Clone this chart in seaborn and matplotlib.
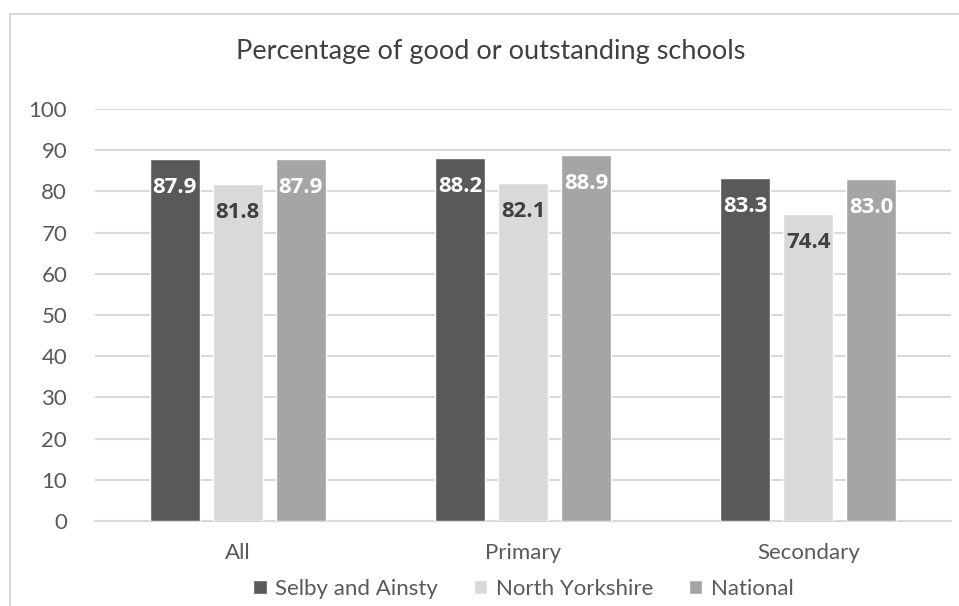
import matplotlib
matplotlib.use("Agg")
import matplotlib.pyplot as plt
import seaborn as sns
import pandas as pd
from matplotlib.patches import Rectangle

categories = ["All", "Primary", "Secondary"]
series = ["Selby and Ainsty", "North Yorkshire", "National"]
selby = [87.9, 88.2, 83.3]
north_yorkshire = [81.8, 82.1, 74.4]
national = [87.9, 88.9, 83.0]
yticks = list(range(0, 101, 10))

colors = ["#595959", "#d9d9d9", "#a5a5a5"]
label_colors = ["white", "#404040", "white"]

rows = []
for s, vals in zip(series, [selby, north_yorkshire, national]):
    for c, v in zip(categories, vals):
        rows.append({"Category": c, "Series": s, "Value": v})
df = pd.DataFrame(rows)

sns.set_theme(style="white")
plt.rcParams["font.family"] = ["Lato", "DejaVu Sans"]

fig = plt.figure(figsize=(9.59, 6.06), dpi=100)
ax = fig.add_axes([95 / 959, 1 - 521 / 606, (951 - 95) / 959, (521 - 109) / 606])

sns.barplot(data=df, x="Category", y="Value", hue="Series", order=categories,
            hue_order=series, palette=colors, width=0.662, gap=0.206,
            saturation=1, ax=ax, legend=True, zorder=3)

ax.set_ylim(0, 100)
ax.set_yticks(yticks)
ax.set_xlim(-0.5, 2.5)
ax.grid(axis="y", color="#d9d9d9", linewidth=1.5, zorder=0)
ax.set_axisbelow(True)
for sp in ["top", "right", "left"]:
    ax.spines[sp].set_visible(False)
ax.spines["bottom"].set_color("#d9d9d9")
ax.spines["bottom"].set_linewidth(1.5)
ax.set_xlabel("")
ax.set_ylabel("")
ax.tick_params(axis="both", length=0, colors="#595959", labelsize=16)
ax.tick_params(axis="x", pad=16)
ax.tick_params(axis="y", pad=20)

for cont, lc in zip(ax.containers, label_colors):
    ax.bar_label(cont, fmt="%.1f", label_type="edge", padding=-28,
                 color=lc, fontsize=16, fontweight="bold",
                 family=["Open Sans", "DejaVu Sans"])

handles, labels = ax.get_legend_handles_labels()
ax.get_legend().remove()
fig.legend(handles, labels, loc="center", bbox_to_anchor=(0.546, 1 - 589 / 606),
           ncol=3, frameon=False, fontsize=16, labelcolor="#595959",
           handlelength=0.6, handleheight=0.6, handletextpad=0.4,
           columnspacing=1.6)

fig.text(0.512, 1 - 52 / 606, "Percentage of good or outstanding schools",
         ha="center", va="center", fontsize=19.5, color="#404040")

fig.patches.append(Rectangle((10 / 959, -0.05), 1.2, 1 - 14 / 606 + 0.05,
                             transform=fig.transFigure, fill=False,
                             edgecolor="#d9d9d9", linewidth=1.5, zorder=0))

fig.savefig("out.png", dpi=100, facecolor="white")
